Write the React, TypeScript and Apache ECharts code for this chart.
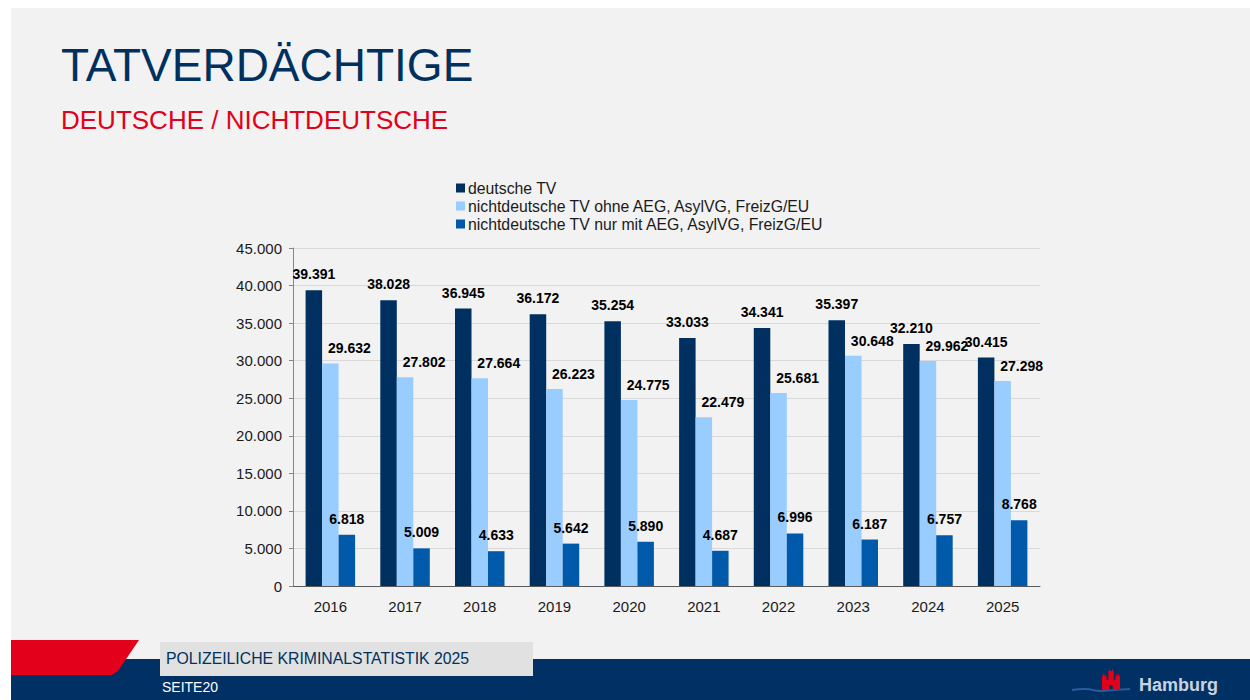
import React, { useEffect, useRef } from "react";
import * as echarts from "echarts";

const years = ["2016", "2017", "2018", "2019", "2020", "2021", "2022", "2023", "2024", "2025"];
const deutscheTV = [39391, 38028, 36945, 36172, 35254, 33033, 34341, 35397, 32210, 30415];
const ohneAEG = [29632, 27802, 27664, 26223, 24775, 22479, 25681, 30648, 29962, 27298];
const nurAEG = [6818, 5009, 4633, 5642, 5890, 4687, 6996, 6187, 6757, 8768];
const seriesNames = [
  "deutsche TV",
  "nichtdeutsche TV ohne AEG, AsylVG, FreizG/EU",
  "nichtdeutsche TV nur mit AEG, AsylVG, FreizG/EU",
];

const FONT = "'Liberation Sans', Arial, sans-serif";
const fmt = (v: number) => String(v).replace(/\B(?=(\d{3})+(?!\d))/g, ".");

const castlePath =
  "M0 22 V8 H1 V6 H2 V8 H3 V6 H4 V8 H5 V12 H7 V3 H8 V1 H9 V3 H11 V1 H12 V3 H13 V12 H15 V8 H16 V6 H17 V8 H18 V6 H19 V8 H20 V22 H12 V17 H8 V22 Z";

let registered = false;

export default function App() {
  const ref = useRef<HTMLDivElement>(null);
  useEffect(() => {
    if (!ref.current) return;
    if (!registered) {
      echarts.graphic.registerShape("castle", echarts.graphic.extendPath(castlePath, {}) as any);
      registered = true;
    }
    const chart = echarts.init(ref.current, null, { renderer: "svg" });
    const labelBase = {
      show: true,
      position: "top" as const,
      color: "#000",
      fontWeight: "bold" as const,
      fontSize: 14,
      fontFamily: FONT,
      formatter: (p: any) => fmt(p.value),
    };
    chart.setOption({
      animation: false,
      backgroundColor: "#ffffff",
      textStyle: { fontFamily: FONT },
      graphic: [
        { type: "rect", z: -10, silent: true, shape: { x: 11, y: 8, width: 1239, height: 692 }, style: { fill: "#f2f2f2" } },
        { type: "text", z: 1, style: { x: 61, y: 65, text: "TATVERDÄCHTIGE", fill: "#00305e", font: `46px ${FONT}`, verticalAlign: "middle" } },
        { type: "text", z: 1, style: { x: 61, y: 120, text: "DEUTSCHE / NICHTDEUTSCHE", fill: "#e2001a", font: `26px ${FONT}`, verticalAlign: "middle" } },
        { type: "rect", z: 1, shape: { x: 11, y: 659, width: 1239, height: 41 }, style: { fill: "#003064" } },
        { type: "polygon", z: 2, shape: { points: [[11, 640], [139, 640], [118, 671], [112, 675], [11, 675]] }, style: { fill: "#e2001a" } },
        { type: "rect", z: 2, shape: { x: 160, y: 642, width: 373, height: 34 }, style: { fill: "#e1e1e1" } },
        { type: "text", z: 3, style: { x: 166, y: 658, text: "POLIZEILICHE KRIMINALSTATISTIK 2025", fill: "#00305e", font: `15.8px ${FONT}`, verticalAlign: "middle" } },
        { type: "text", z: 3, style: { x: 162, y: 687, text: "SEITE20", fill: "#ffffff", font: `14px ${FONT}`, verticalAlign: "middle" } },
        { type: "polyline", z: 3, shape: { points: [[1072, 690], [1086, 689], [1100, 691], [1115, 690], [1130, 689]], smooth: 0.5 }, style: { stroke: "#2a5b9c", lineWidth: 2, fill: "none" } },
        { type: "castle", z: 4, x: 1102, y: 668, scaleX: 0.9, scaleY: 1, style: { fill: "#e2001a" } },
        { type: "text", z: 3, style: { x: 1139, y: 685, text: "Hamburg", fill: "#c9d3e0", font: `bold 18px ${FONT}`, verticalAlign: "middle" } },
      ],
      legend: {
        orient: "vertical",
        left: 456,
        top: 180,
        padding: 0,
        itemWidth: 9,
        itemHeight: 9,
        itemGap: 2,
        icon: "rect",
        textStyle: { fontSize: 15.8, color: "#1a1a1a", fontFamily: FONT, padding: [0, 0, 0, -2] },
        data: seriesNames,
      },
      grid: { left: 293, top: 248, right: 210, bottom: 114, containLabel: false },
      xAxis: {
        type: "category",
        data: years,
        axisLine: { lineStyle: { color: "#595959", width: 1 } },
        axisTick: { show: false },
        axisLabel: { fontSize: 15, color: "#1a1a1a", margin: 13, fontFamily: FONT },
      },
      yAxis: {
        type: "value",
        min: 0,
        max: 45000,
        interval: 5000,
        axisLine: { show: true, lineStyle: { color: "#868686" } },
        axisTick: { show: true, length: 4, lineStyle: { color: "#868686" } },
        splitLine: { lineStyle: { color: "#d9d9d9" } },
        axisLabel: { fontSize: 15, color: "#1a1a1a", margin: 11, fontFamily: FONT, formatter: (v: number) => fmt(v) },
      },
      series: [
        {
          name: seriesNames[0],
          type: "bar",
          data: deutscheTV,
          barWidth: 16.5,
          barGap: "0%",
          itemStyle: { color: "#00305f" },
          label: { ...labelBase, distance: 9 },
        },
        {
          name: seriesNames[1],
          type: "bar",
          data: ohneAEG,
          barWidth: 16.5,
          barGap: "0%",
          itemStyle: { color: "#99ccff" },
          label: { ...labelBase, distance: 8, offset: [19, 0] },
        },
        {
          name: seriesNames[2],
          type: "bar",
          data: nurAEG,
          barWidth: 16.5,
          barGap: "0%",
          itemStyle: { color: "#005aa9" },
          label: { ...labelBase, distance: 9 },
        },
      ],
    });
    return () => chart.dispose();
  }, []);
  return <div ref={ref} style={{ position: "fixed", left: 0, top: 0, width: 1250, height: 700 }} />;
}
